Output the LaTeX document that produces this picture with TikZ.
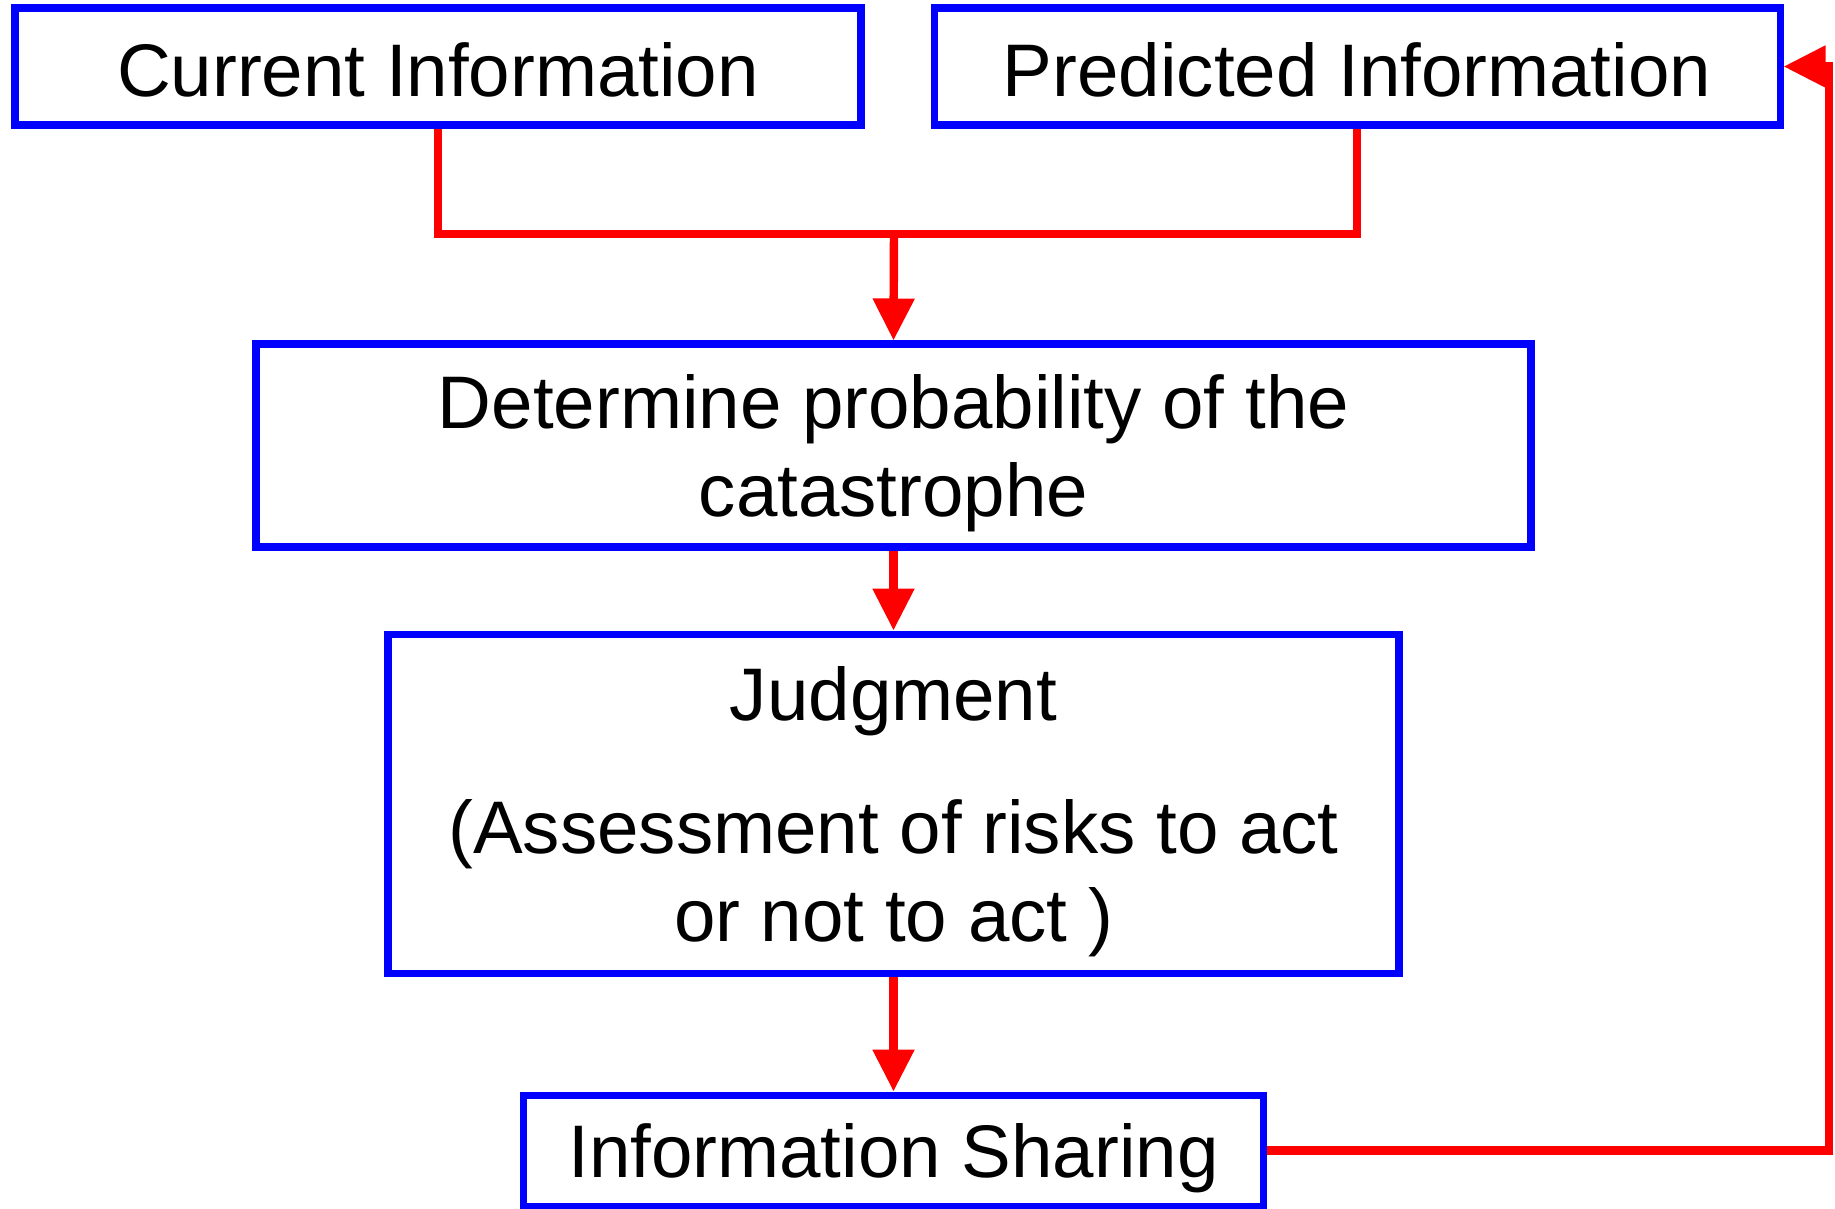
\documentclass[tikz,border=0pt]{standalone}
\usepackage{fontspec}
\setmainfont{Liberation Sans}
\usetikzlibrary{arrows.meta, positioning}
\usepackage{xcolor}
\definecolor{BoxBlue}{RGB}{0,0,255}
\definecolor{LinkRed}{RGB}{255,0,0}
\newcommand{\topstrut}{\rule{0pt}{20pt}}

\begin{document}
\begin{tikzpicture}[
          box/.style={rectangle, draw=BoxBlue, line width=2pt, fill=white, align=center, inner sep=2pt, font=\fontsize{21.2}{25}\selectfont},
          link/.style={LinkRed, line width=2.4pt},
          arrow/.style={-{Triangle[length=0.42cm, width=0.40cm]}, link}
        ]
          \useasboundingbox (0,0) rectangle (18.35,-12.09);

          \node (current) [box, text height=17pt, minimum width=8.46cm, minimum height=1.17cm] at (4.38,-0.665) {Current Information};
          \node (predicted) [box, text height=17pt, minimum width=8.46cm, minimum height=1.17cm, right=0.66cm of current] {Predicted Information};
          \node (probability) [box, minimum width=12.75cm, minimum height=2.03cm] at (8.935,-4.455) {\topstrut Determine probability of the\\catastrophe};
          \node (judgment) [box, minimum width=10.11cm, minimum height=3.39cm, below=0.8cm of probability] {\topstrut Judgment\\[13pt](Assessment of risks to act\\or not to act )};
          \node (sharing) [box, text height=20pt, minimum width=7.40cm, minimum height=1.11cm, below=1.15cm of judgment] {Information Sharing};

          \coordinate (join) at (8.94,-2.34);
          \coordinate (back) at (18.29,0);

          \draw [link] (current.south) |- (join) -| (predicted.south);
          \draw [arrow] (join) -- (probability.north);
          \draw [arrow] (probability) -- (judgment);
          \draw [arrow] (judgment) -- (sharing);
          \draw [arrow] (sharing.east) -- (sharing.east -| back) |- (predicted.east);
        \end{tikzpicture}
\end{document}
